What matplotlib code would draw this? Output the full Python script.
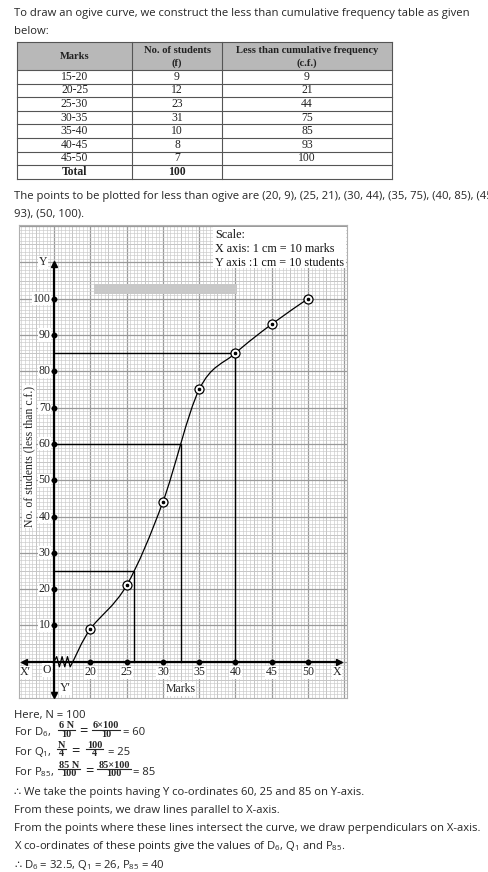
import matplotlib
matplotlib.use('Agg')
import matplotlib.pyplot as plt
import numpy as np
from matplotlib.path import Path
from matplotlib.patches import PathPatch, Rectangle

# ---- data ----
marks = ['15-20', '20-25', '25-30', '30-35', '35-40', '40-45', '45-50']
students = [9, 12, 23, 31, 10, 8, 7]
cum_freq = [9, 21, 44, 75, 85, 93, 100]
total_students = 100

upper_limits = [20, 25, 30, 35, 40, 45, 50]
ogive_start_x = 17.6          # curve starts where the axis break ends

# values: (y level, x where it meets the curve)
readoffs_y = [60, 25, 85]
readoffs_x = [32.5, 26, 40]

x_ticks = [20, 25, 30, 35, 40, 45, 50]
y_ticks = [10, 20, 30, 40, 50, 60, 70, 80, 90, 100]

plt.rcParams['mathtext.fontset'] = 'custom'
plt.rcParams['mathtext.rm'] = 'Open Sans'
plt.rcParams['mathtext.it'] = 'Open Sans:italic'
plt.rcParams['mathtext.bf'] = 'Liberation Serif:bold'
plt.rcParams['mathtext.default'] = 'regular'

SANS = ['Open Sans', 'DejaVu Sans']
SERIF = 'Liberation Serif'
TXT = '#262626'
BODY = 8.15
FRAC = 7.4

W, H = 488, 872
fig = plt.figure(figsize=(W / 100, H / 100), dpi=100)
rend = fig.canvas.get_renderer()

# page layer in pixel coordinates
page = fig.add_axes([0, 0, 1, 1])
page.set_xlim(0, W)
page.set_ylim(H, 0)
page.axis('off')

def line(y, s, x=14, **kw):
    page.text(x, y, s, va='center', ha='left', fontsize=BODY, family=SANS, color=TXT, **kw)

def frac(xc, y, num, den):
    yb = y - 2.8
    fk = dict(ha='center', va='center', family=SERIF, fontweight='bold', fontsize=FRAC, color=TXT)
    t1 = page.text(xc, yb - 3.9, num, **fk)
    t2 = page.text(xc, yb + 4.7, den, **fk)
    w = max(t.get_window_extent(renderer=rend).width for t in (t1, t2)) + 2
    page.plot([xc - w / 2, xc + w / 2], [yb, yb], color=TXT, lw=0.8)

def eq(x, y):
    page.text(x, y, '=', va='center', ha='center', fontsize=10.5, family=SANS, color=TXT)

line(13.5, 'To draw an ogive curve, we construct the less than cumulative frequency table as given')
line(31.5, 'below:')

# ---- table ----
col_x = [17, 132, 222, 392]
top, head_bot, row_h = 42.5, 70, 13.6
n_rows = len(marks) + 1
page.add_patch(Rectangle((col_x[0], top), col_x[-1] - col_x[0], head_bot - top,
                         facecolor='#b8b8b8', edgecolor='none'))
page.plot([col_x[0], col_x[-1]], [top, top], color='#555555', lw=0.8)
for i in range(n_rows + 1):
    yy = head_bot + i * row_h
    page.plot([col_x[0], col_x[-1]], [yy, yy], color='#555555', lw=0.8)
bottom = head_bot + n_rows * row_h
for xx in col_x:
    page.plot([xx, xx], [top, bottom], color='#555555', lw=0.8)

centers = [(col_x[i] + col_x[i + 1]) / 2 for i in range(3)]
hd = dict(family=SERIF, fontsize=7.6, fontweight='bold', color='#222222', ha='center', va='center')
page.text(centers[0], 56.5, 'Marks', **hd)
page.text(centers[1], 50.5, 'No. of students', **hd)
page.text(centers[1], 63.5, '(f)', **hd)
page.text(centers[2], 50.5, 'Less than cumulative frequency', **hd)
page.text(centers[2], 63.5, '(c.f.)', **hd)

cell = dict(family=SERIF, fontsize=8.4, color='#222222', ha='center', va='center')
for i, (m, f, c) in enumerate(zip(marks, students, cum_freq)):
    yy = head_bot + (i + 0.5) * row_h
    page.text(centers[0], yy, m, **cell)
    page.text(centers[1], yy, str(f), **cell)
    page.text(centers[2], yy, str(c), **cell)
yy = head_bot + (n_rows - 0.5) * row_h
page.text(centers[0], yy, 'Total', **dict(cell, fontweight='bold'))
page.text(centers[1], yy, str(total_students), **dict(cell, fontweight='bold'))

pts_txt = ', '.join(f'({x}, {y})' for x, y in zip(upper_limits, cum_freq))
line(196, 'The points to be plotted for less than ogive are ' + pts_txt.split(', (45')[0] + ', (45,')
line(213.5, '93), (50, 100).')

# ---- graph paper ----
ax = fig.add_axes([19 / W, 1 - 697.5 / H, 327.5 / W, 472.5 / H])
ax.set_xlim(10.18, 55.29)
ax.set_ylim(-9.86, 120.3)
ax.set_xticks(np.arange(15, 56, 5))
ax.set_xticks(np.arange(10.5, 55.3, 0.5), minor=True)
ax.set_yticks(np.arange(-0, 121, 10))
ax.set_yticks(np.arange(-9, 121, 1), minor=True)
ax.grid(which='minor', color='#c9c9c9', lw=0.45)
ax.grid(which='major', color='#9a9a9a', lw=0.9)
ax.tick_params(which='both', length=0, labelbottom=False, labelleft=False)
for s in ax.spines.values():
    s.set_color('#b0b0b0')
    s.set_linewidth(0.8)
for xx in np.arange(12.5, 55, 5):
    ax.axvline(xx, color='#b5b5b5', lw=0.6, zorder=0.6)
for yy in np.arange(-5, 120, 10):
    ax.axhline(yy, color='#b5b5b5', lw=0.6, zorder=0.6)

# scale box and grey strip (page pixel coordinates)
ax.add_patch(Rectangle((213, 227), 133, 41, transform=page.transData, facecolor='white',
                       edgecolor='none', zorder=3, clip_on=False))
for yy, s in zip([235, 249, 262.5], ['Scale:', 'X axis: 1 cm = 10 marks', 'Y axis :1 cm = 10 students']):
    ax.text(215, yy, s, transform=page.transData, family=SERIF, fontsize=8.7, color='#111111',
            va='center', ha='left', zorder=4)
ax.add_patch(Rectangle((94, 284), 143, 10, transform=page.transData, facecolor='#c8c8c8',
                       edgecolor='none', zorder=3, clip_on=False))

# axes with arrows
ax.plot([10.9, 54.3], [0, 0], color='black', lw=1.6, zorder=5)
ax.plot([15, 15], [-9.3, 109.5], color='black', lw=1.6, zorder=5)
ax.plot([10.9], [0], marker='<', color='black', ms=4, zorder=5)
ax.plot([54.3], [0], marker='>', color='black', ms=4, zorder=5)
ax.plot([15], [109.5], marker='^', color='black', ms=4, zorder=5)
ax.plot([15], [-9.3], marker='v', color='black', ms=4, zorder=5)

# axis break zigzag
zx = np.linspace(15, ogive_start_x, 8)
zy = np.array([0, 1.4, -1.4, 1.4, -1.4, 1.4, -1.4, 0])
ax.plot(zx, zy, color='black', lw=0.9, zorder=6)

ax.plot(x_ticks, [0] * len(x_ticks), 'o', color='black', ms=3.2, zorder=6)
ax.plot([15] * len(y_ticks), y_ticks, 'o', color='black', ms=3.2, zorder=6)

lab = dict(family=SERIF, fontsize=8.5, color='#222222', zorder=7,
           bbox=dict(facecolor='white', edgecolor='none', pad=0.4))
for v in y_ticks:
    ax.text(14.55, v, str(v), ha='right', va='center', **lab)
for v in x_ticks:
    ax.text(v, -2.9, str(v), ha='center', va='center', **lab)
ax.text(11.1, -2.9, "X\u2032", ha='center', va='center', **lab)
ax.text(14.0, -2.3, 'O', ha='center', va='center', **lab)
ax.text(54.0, -2.9, 'X', ha='center', va='center', **lab)
ax.text(13.5, 110.0, 'Y', ha='center', va='center', **lab)
ax.text(16.6, -7.3, "Y\u2032", ha='center', va='center', **lab)
ax.text(32.4, -7.5, 'Marks', ha='center', va='center', **lab)
ax.text(29, 456.5, 'No. of students (less than c.f.)', transform=page.transData, rotation=90,
        ha='center', va='center', **lab)

# construction lines for D6, Q1, P85
for xv, yv in zip(readoffs_x, readoffs_y):
    ax.plot([15, xv, xv], [yv, yv, 0], color='black', lw=1.0, zorder=5)

# smooth ogive through the points (Catmull-Rom as cubic Bezier)
pts = np.array([[ogive_start_x, 0]] + list(zip(upper_limits, cum_freq)), dtype=float)
verts, codes = [pts[0]], [Path.MOVETO]
for i in range(len(pts) - 1):
    p0 = pts[i - 1] if i > 0 else pts[i]
    p1, p2 = pts[i], pts[i + 1]
    p3 = pts[i + 2] if i + 2 < len(pts) else pts[i + 1]
    verts += [p1 + (p2 - p0) / 6, p2 - (p3 - p1) / 6, p2]
    codes += [Path.CURVE4] * 3
ax.add_patch(PathPatch(Path(verts, codes), facecolor='none', edgecolor='black', lw=0.9, zorder=6))

ax.plot(upper_limits, cum_freq, 'o', mfc='white', mec='black', ms=6.5, mew=0.9, zorder=7)
ax.plot(upper_limits, cum_freq, 'o', color='black', ms=1.6, zorder=8)

# ---- explanation text ----
line(715, 'Here, N = 100')

y1 = 732.5
line(y1, r'For D$_{6}$,')
frac(66.5, y1, '6 N', '10')
eq(83, y1 - 0.8)
frac(106.3, y1, '6\u00d7100', '10')
line(y1, '= 60', x=123)

y2 = 752
line(y2, r'For Q$_{1}$,')
frac(61.7, y2, 'N', '4')
eq(75, y2 - 0.8)
frac(94.7, y2, '100', '4')
line(y2, '= 25', x=108)

y3 = 772
line(y3, r'For P$_{85}$,')
frac(68.8, y3, '85 N', '100')
eq(89.5, y3 - 0.8)
frac(114.2, y3, '85\u00d7100', '100')
line(y3, '= 85', x=132.7)

line(792.5, '\u2234 We take the points having Y co-ordinates 60, 25 and 85 on Y-axis.')
line(810.5, 'From these points, we draw lines parallel to X-axis.')
line(828.5, 'From the points where these lines intersect the curve, we draw perpendiculars on X-axis.')
line(846.5, r'X co-ordinates of these points give the values of D$_{6}$, Q$_{1}$ and P$_{85}$.')
page.text(14, 865, '\u2234', va='center', ha='left', fontsize=BODY, family='DejaVu Sans', color=TXT)
line(865, r'D$_{6}$ = 32.5, Q$_{1}$ = 26, P$_{85}$ = 40', x=24)

fig.savefig('out.png', dpi=100)
